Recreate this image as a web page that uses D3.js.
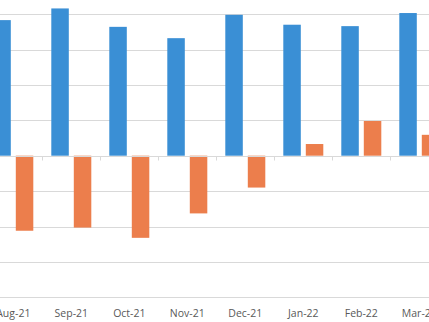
<!DOCTYPE html>
<html>
<head>
<meta charset="utf-8">
<script src="https://cdn.jsdelivr.net/npm/d3@7"></script>
<style>
  html, body { margin: 0; padding: 0; background: #fff; overflow: hidden; }
  svg { display: block; }
</style>
</head>
<body>
<svg id="chart" width="429" height="322"></svg>
<script>
// Monthly values, two series (in gridline units)
const months = ["Aug-21", "Sep-21", "Oct-21", "Nov-21", "Dec-21", "Jan-22", "Feb-22", "Mar-22"];
const seriesA = [3.83, 4.16, 3.64, 3.32, 3.98, 3.70, 3.66, 4.03];
const seriesB = [-2.12, -2.03, -2.32, -1.63, -0.90, 0.33, 0.98, 0.59];
const gridTicks = [-4, -3, -2, -1, 0, 1, 2, 3, 4];

const svg = d3.select("#chart");
const W = 429, H = 322;

// plot area continues past the visible frame on the left, right and top
const x = d3.scaleBand().domain(months).range([-15.7, -15.7 + months.length * 58]);
const y = d3.scaleLinear().domain([-4, 4]).range([297.3, 14.1]);

// horizontal gridlines
svg.append("g")
  .selectAll("line")
  .data(gridTicks.filter(d => d !== 0))
  .join("line")
  .attr("x1", 0).attr("x2", W)
  .attr("y1", d => Math.round(y(d)) + 0.5)
  .attr("y2", d => Math.round(y(d)) + 0.5)
  .attr("stroke", "#d9d9d9")
  .attr("stroke-width", 1);

const barW = 17.5, gap = 5;
const groupW = barW * 2 + gap;
const off = (x.bandwidth() - groupW) / 2;

svg.append("g")
  .selectAll("rect")
  .data(months.map((m, i) => ({ m, v: seriesA[i] })))
  .join("rect")
  .attr("x", d => x(d.m) + off)
  .attr("width", barW)
  .attr("y", d => y(Math.max(0, d.v)))
  .attr("height", d => Math.abs(y(d.v) - y(0)))
  .attr("fill", "#3a8fd5");

svg.append("g")
  .selectAll("rect")
  .data(months.map((m, i) => ({ m, v: seriesB[i] })))
  .join("rect")
  .attr("x", d => x(d.m) + off + barW + gap)
  .attr("width", barW)
  .attr("y", d => y(Math.max(0, d.v)))
  .attr("height", d => Math.abs(y(d.v) - y(0)))
  .attr("fill", "#ec7e4c");

// category axis along zero, ticks between categories
const y0 = Math.round(y(0)) + 0.5;
const axis = svg.append("g");
axis.append("line")
  .attr("x1", 0).attr("x2", W)
  .attr("y1", y0).attr("y2", y0)
  .attr("stroke", "#d9d9d9");
axis.selectAll("line.tick")
  .data(months.slice(1))
  .join("line")
  .attr("class", "tick")
  .attr("x1", d => Math.round(x(d)) + 0.5)
  .attr("x2", d => Math.round(x(d)) + 0.5)
  .attr("y1", y0).attr("y2", y0 + 4)
  .attr("stroke", "#d9d9d9");

// month labels at the bottom
svg.append("g")
  .selectAll("text")
  .data(months)
  .join("text")
  .attr("x", d => x(d) + x.bandwidth() / 2)
  .attr("y", 317)
  .attr("text-anchor", "middle")
  .attr("font-family", "'Open Sans', 'Noto Sans', sans-serif")
  .attr("font-size", "10.5px")
  .attr("fill", "#595959")
  .text(d => d);
</script>
</body>
</html>
